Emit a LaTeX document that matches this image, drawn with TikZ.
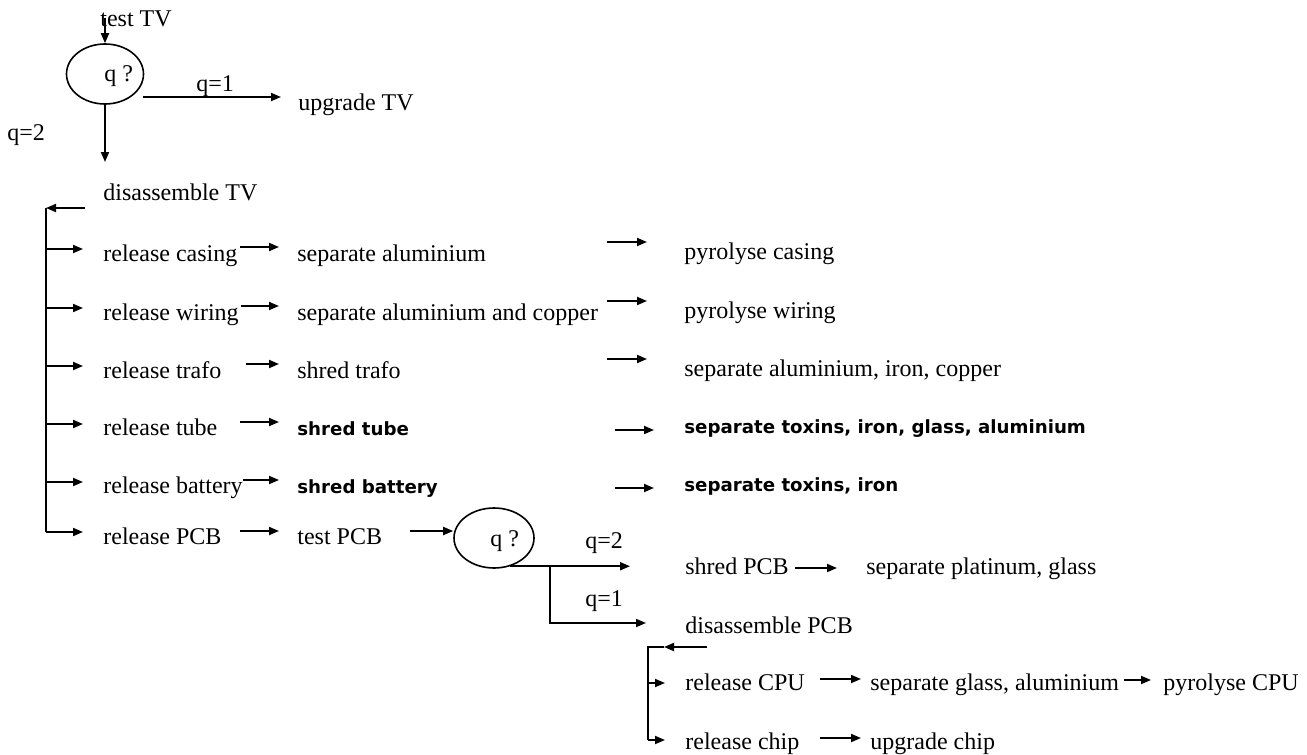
\documentclass[tikz,border=0pt]{standalone}
\usepackage{fontspec}
\setmainfont{Liberation Serif}
\newfontfamily\bsans{DejaVu Sans}
\usetikzlibrary{arrows.meta,shapes.geometric}
\begin{document}
\begin{tikzpicture}[x=0.5pt,y=-0.5pt,
  txt/.style={anchor=base west,inner sep=0pt,font=\fontsize{12}{14}\selectfont},
  btxt/.style={anchor=base west,inner sep=0pt,font=\bsans\bfseries\fontsize{9.1}{11}\selectfont},
  arr/.style={line width=0.9pt,-{Triangle[length=5pt,width=4pt]}},
  ln/.style={line width=0.9pt},
  decision/.style={draw,ellipse,line width=0.8pt,inner sep=0pt}]
\useasboundingbox (0,0) rectangle (1307,755);

% ---------- top decision ----------
\node[txt] (testtv) at (100,26) {test TV};
\node[decision,minimum width=38.5pt,minimum height=30pt] (e1) at (105,74) {};
\node[txt] (q1) at (104,81) {q ?};
\node[txt] (lq1) at (196,91) {q=1};
\node[txt] (upgtv) at (298,110) {upgrade TV};
\node[txt] (lq2) at (7,140) {q=2};
\node[txt] (distv) at (103,200) {disassemble TV};

\coordinate (ttvs) at (105,18);
\draw[arr] (ttvs) -- (e1.north);
\coordinate (q1s) at (143,97);
\coordinate (q1e) at (281,97);
\draw[arr] (q1s) -- (q1e);
\coordinate (dwe) at (105,162);
\draw[arr] (e1.south) -- (dwe);

% ---------- main bracket ----------
\coordinate (las) at (85,208);
\coordinate (spt) at (46,208);
\coordinate (spb) at (46,532);
\draw[arr] (las) -- (spt);
\draw[ln] (spt) -- (spb);

% rows: col1 text, col2 text, col3 text
\node[txt] (r1) at (103,261) {release casing};
\node[txt] (r2) at (103,320) {release wiring};
\node[txt] (r3) at (103,378) {release trafo};
\node[txt] (r4) at (103,435) {release tube};
\node[txt] (r5) at (103,493) {release battery};
\node[txt] (r6) at (103,544) {release PCB};

\node[txt]  (s1) at (297,261) {separate aluminium};
\node[txt]  (s2) at (297,320) {separate aluminium and copper};
\node[txt]  (s3) at (297,378) {shred trafo};
\node[btxt] (s4) at (297,435) {shred tube};
\node[btxt] (s5) at (297,493) {shred battery};
\node[txt]  (s6) at (297,544) {test PCB};

\node[txt]  (t1) at (684,259) {pyrolyse casing};
\node[txt]  (t2) at (684,318) {pyrolyse wiring};
\node[txt]  (t3) at (684,376) {separate aluminium, iron, copper};
\node[btxt] (t4) at (684,433) {separate toxins, iron, glass, aluminium};
\node[btxt] (t5) at (684,491) {separate toxins, iron};

\foreach \i/\y in {1/249,2/308,3/366,4/424,5/482,6/532}{
  \coordinate (b\i) at (83,\y);
  \draw[arr] (spt |- b\i) -- (b\i);
}
\foreach \i/\y/\xs in {1/247/240,2/306/241,3/364/246,4/422/240,5/480/243,6/531/240}{
  \coordinate (ca\i) at (\xs,\y);
  \coordinate (cb\i) at (279,\y);
  \draw[arr] (ca\i) -- (cb\i);
}
\foreach \i/\y/\xs/\xe in {1/242/607/647,2/301/607/647,3/359/607/647,4/430/615/654,5/488/615/654}{
  \coordinate (da\i) at (\xs,\y);
  \coordinate (db\i) at (\xe,\y);
  \draw[arr] (da\i) -- (db\i);
}

% ---------- PCB decision ----------
\coordinate (pcs) at (410,531);
\node[decision,minimum width=40pt,minimum height=30pt] (e2) at (494,538) {};
\draw[arr] (pcs) -- (pcs -| e2.west);
\node[txt] (q2) at (490,546) {q ?};
\node[txt] (lq2b) at (585,548) {q=2};
\node[txt] (lq1b) at (585,606) {q=1};

\coordinate (q2e) at (630,566);
\coordinate (brk) at (550,566);
\coordinate (q1be) at (646,623);
\draw[arr] (e2.-60) -- (q2e |- e2.-60);
\draw[arr] (brk |- e2.-60) |- (q1be);

\node[txt] (shpcb) at (685,574) {shred PCB};
\node[txt] (sppg) at (866,574) {separate platinum, glass};
\coordinate (spa) at (795,568);
\coordinate (spb2) at (837,568);
\draw[arr] (spa) -- (spb2);

\node[txt] (dispcb) at (685,633) {disassemble PCB};

% ---------- PCB bracket ----------
\coordinate (la2s) at (707,647);
\coordinate (la2e) at (664,647);
\coordinate (sp2t) at (648,647);
\coordinate (sp2b) at (648,740);
\draw[arr] (la2s) -- (la2e);
\draw[ln] (la2e) -- (sp2t) -- (sp2b);

\node[txt] (rcpu) at (685,690) {release CPU};
\node[txt] (rchip) at (685,749) {release chip};
\coordinate (bc1) at (665,683);
\coordinate (bc2) at (665,740);
\draw[arr] (sp2t |- bc1) -- (bc1);
\draw[arr] (sp2b) -- (bc2);

\node[txt] (sga) at (870,690) {separate glass, aluminium};
\node[txt] (pcpu) at (1163,690) {pyrolyse CPU};
\node[txt] (uchip) at (870,749) {upgrade chip};
\coordinate (ac1) at (820,679);
\coordinate (ac2) at (861,679);
\draw[arr] (ac1) -- (ac2);
\coordinate (ag1) at (1124,680);
\coordinate (ag2) at (1151,680);
\draw[arr] (ag1) -- (ag2);
\coordinate (ah1) at (820,738);
\coordinate (ah2) at (861,738);
\draw[arr] (ah1) -- (ah2);
\end{tikzpicture}
\end{document}
